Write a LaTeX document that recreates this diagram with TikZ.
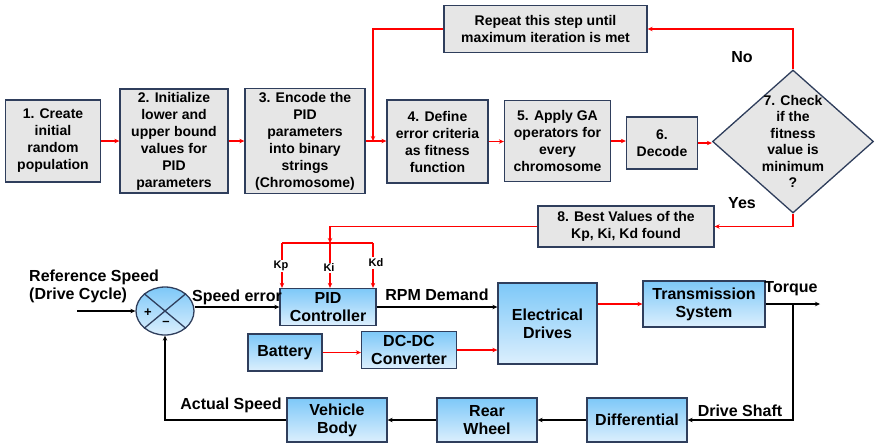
\documentclass[tikz,border=0pt]{standalone}
\usepackage{fontspec}
\setmainfont{Liberation Sans}
\usetikzlibrary{arrows.meta,shapes.geometric,calc}
\definecolor{gfill}{HTML}{E6E6E6}
\definecolor{bord}{HTML}{2F3E5C}
\definecolor{btop}{HTML}{7DC8F8}
\definecolor{bbot}{HTML}{DCEFFD}
\definecolor{rline}{HTML}{FF0000}
\begin{document}
\begin{tikzpicture}[x=1pt,y=-1pt,
 gabox/.style={draw=bord, line width=1.3pt, fill=gfill, align=center, inner sep=0pt, font=\bfseries\fontsize{14}{17}\selectfont},
 blbox/.style={draw=bord, line width=1.3pt, top color=btop, bottom color=bbot, align=center, inner sep=0pt, font=\bfseries\fontsize{16}{18}\selectfont},
 rarr/.style={draw=rline, line width=1.3pt, -{Stealth[length=5pt,width=4.5pt]}},
 rln/.style={draw=rline, line width=1.3pt},
 karr/.style={draw=black, line width=1.3pt, -{Stealth[length=5pt,width=4.5pt]}},
 lbl/.style={font=\bfseries\fontsize{16}{18}\selectfont, inner sep=0pt, align=left},
 klbl/.style={font=\bfseries\fontsize{11}{12}\selectfont, inner sep=1.5pt, fill=white},
]
\useasboundingbox (0,0) rectangle (875,445);
% ---- GA flow (top) ----
\node[gabox, minimum width=95pt, minimum height=82pt] (b1) at (53,141) {1. Create\\initial\\random\\population};
\node[gabox, minimum width=108pt, minimum height=104pt] (b2) at (174,141) {2. Initialize\\lower and\\upper bound\\values for\\PID\\parameters};
\node[gabox, minimum width=120pt, minimum height=105pt] (b3) at (305,141) {3. Encode the\\PID\\parameters\\into binary\\strings\\(Chromosome)};
\node[gabox, minimum width=101pt, minimum height=83pt] (b4) at (437.5,141.5) {4. Define\\error criteria\\as fitness\\function};
\node[gabox, minimum width=106pt, minimum height=81pt] (b5) at (557.5,141) {5. Apply GA\\operators for\\every\\chromosome};
\node[gabox, minimum width=71pt, minimum height=52pt] (b6) at (662,143) {6.\\Decode};
\node[gabox, minimum width=203pt, minimum height=47pt] (rep) at (545.5,29) {Repeat this step until\\maximum iteration is met};
\node[diamond, draw=bord, line width=1.3pt, fill=gfill, minimum width=161pt, minimum height=143pt, inner sep=0pt] (d7) at (793,141.5) {};
\node[align=center, inner sep=0pt, font=\bfseries\fontsize{14}{16.5}\selectfont] (d7t) at (d7) {7. Check\\if the\\fitness\\value is\\minimum\\?};
\node[gabox, minimum width=176pt, minimum height=41pt] (b8) at (626,226.5) {8. Best Values of the\\Kp, Ki, Kd found};
\node[lbl] (no) at (742,57) {No};
\node[lbl] (yes) at (742,203) {Yes};

\draw[rarr] (b1.east) -- (b1.east -| b2.west);
\draw[rarr] (b2.east) -- (b2.east -| b3.west);
\draw[rarr] (b3.east) -- (b3.east -| b4.west);
\draw[rarr] (b4.east) -- (b4.east -| b5.west);
\draw[rarr] (b5.east) -- (b5.east -| b6.west);
\draw[rarr] (b6.east) -- (b6.east -| d7.west);
\draw[rarr] (d7.north) |- (rep.east);
\coordinate (j34) at (373,141);
\draw[rarr] (rep.west) -| (j34);
\draw[rarr] (d7.south) |- (b8.east);

% ---- vehicle loop (bottom) ----
\node[ellipse, draw=bord, line width=1.3pt, top color=btop, bottom color=bbot, minimum width=58pt, minimum height=48pt, inner sep=0pt] (sum) at (165,311) {};
\draw[bord, line width=1.3pt] (sum.north west) -- (sum.south east);
\draw[bord, line width=1.3pt] (sum.north east) -- (sum.south west);
\node[font=\bfseries\fontsize{13}{13}\selectfont, inner sep=0pt] (plus) at (148,313) {+};
\node[font=\bfseries\fontsize{13}{13}\selectfont, inner sep=0pt] (minus) at (166,323) {\textendash};

\node[blbox, minimum width=96pt, minimum height=37pt] (pid) at (328,307) {PID\\Controller};
\node[blbox, minimum width=99pt, minimum height=81pt] (elec) at (547.5,323.5) {Electrical\\Drives};
\node[blbox, minimum width=74pt, minimum height=37pt] (bat) at (285,352.5) {Battery};
\node[blbox, minimum width=95pt, minimum height=37pt] (dc) at (409,350) {DC-DC\\Converter};
\node[blbox, minimum width=122pt, minimum height=46pt] (trans) at (704,304) {Transmission\\System};
\node[blbox, minimum width=100pt, minimum height=44pt] (diff) at (637,420) {Differential};
\node[blbox, minimum width=100pt, minimum height=44pt] (rear) at (487,420) {Rear\\Wheel};
\node[blbox, minimum width=100pt, minimum height=44pt] (veh) at (337,420) {Vehicle\\Body};

\node[lbl, anchor=north west] (ref) at (29,270) {Reference Speed\\(Drive Cycle)};
\node[lbl] (serr) at (237,297) {Speed error};
\node[lbl] (rpm) at (437,295) {RPM Demand};
\node[lbl] (torq) at (791,289) {Torque};
\node[lbl] (dsh) at (740,411) {Drive Shaft};
\node[lbl] (act) at (231,405) {Actual Speed};

\coordinate (kj) at (330,243);
\coordinate (kpc) at (282,243);
\coordinate (kdc) at (373,243);
\draw[rarr] (b8.west) -| (kj);
\draw[rln] (kpc) -- (kdc);
\draw[rarr] (kpc) -- (kpc |- pid.north);
\draw[rarr] (kj) -- (kj |- pid.north);
\draw[rarr] (kdc) -- (kdc |- pid.north);
\node[klbl] (kp) at (281,266) {Kp};
\node[klbl] (ki) at (329,268) {Ki};
\node[klbl] (kd) at (376,263) {Kd};

\coordinate (rin) at (77,311);
\draw[karr] (rin) -- (sum.west);
\draw[karr] (sum.east |- pid.west) -- (pid.west);
\draw[karr] (pid.east) -- (pid.east -| elec.west);
\draw[rarr] (bat.east) -- (bat.east -| dc.west);
\draw[rarr] (dc.east) -- (dc.east -| elec.west);
\draw[rarr] (elec.east |- trans.west) -- (trans.west);
\coordinate (tout) at (820,304);
\coordinate (tj) at (793,304);
\draw[karr] (trans.east) -- (tout);
\draw[karr] (tj) |- (diff.east);
\draw[karr] (diff.west) -- (rear.east);
\draw[karr] (rear.west) -- (veh.east);
\draw[karr] (veh.west) -| (sum.south);
\end{tikzpicture}
\end{document}
